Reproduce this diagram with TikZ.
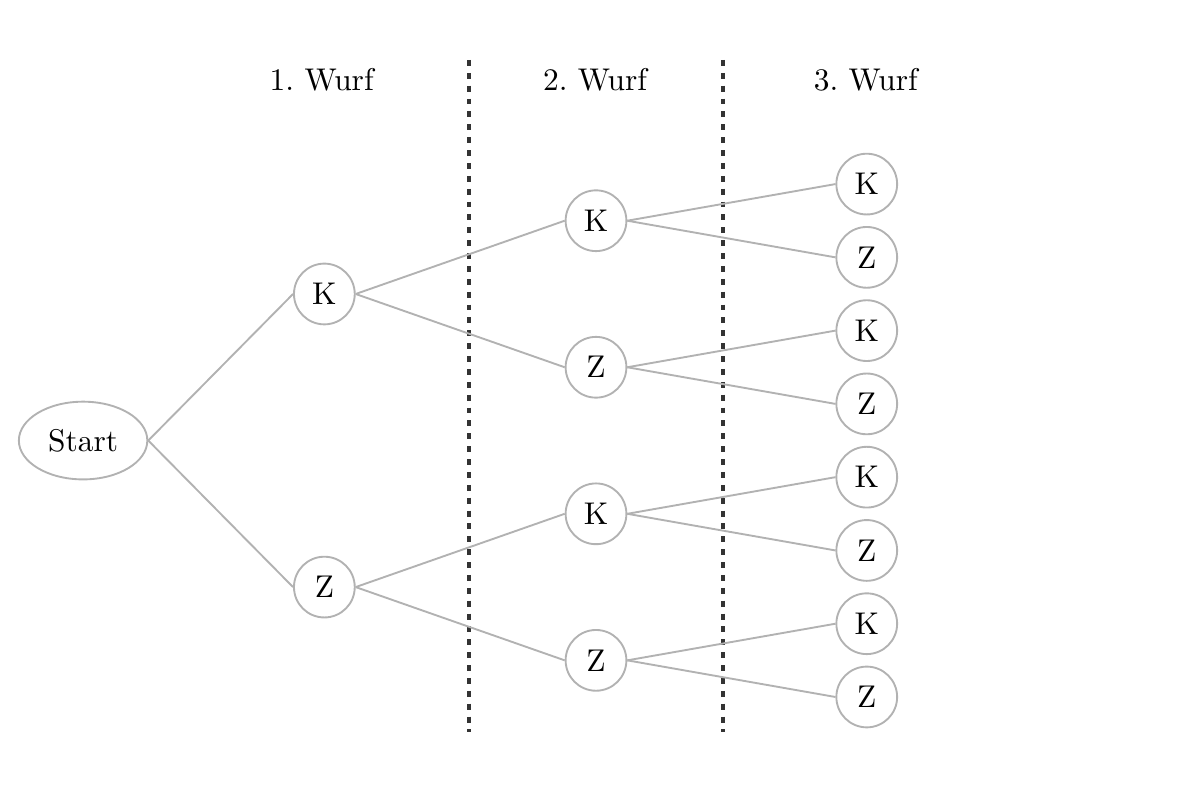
\documentclass[tikz,border=0pt]{standalone}
\usepackage{tikz}
\usetikzlibrary{shapes.geometric,positioning}

\begin{document}
\begin{tikzpicture}[
    knoten/.style={circle, draw=gray!60, semithick, minimum size=0.68cm, inner sep=0pt},
    startknoten/.style={ellipse, draw=gray!60, semithick, minimum width=1.43cm, minimum height=0.87cm},
    ast/.style={gray!60, semithick},
    trenner/.style={black!80, line width=1.1pt, dash pattern=on 1.9pt off 2.2pt}
]
    \useasboundingbox (-0.93,-3.95) rectangle (12.41,4.93);

    % Headers
    \node (w1) at (2.67,4.04) {1.\ Wurf};
    \node (w2) at (5.73,4.04) {2.\ Wurf};
    \node (w3) at (8.76,4.04) {3.\ Wurf};

    % Separators
    \coordinate (t1o) at (4.32,4.26);
    \coordinate (t1u) at (4.32,-3.26);
    \coordinate (t2o) at (7.16,4.26);
    \coordinate (t2u) at (7.16,-3.26);
    \draw[trenner] (t1o) -- (t1u);
    \draw[trenner] (t2o) -- (t2u);

    % Root
    \node[startknoten] (s) at (0,0) {Start};

    % 1. Wurf
    \node[knoten] (k) at (2.70,1.64) {K};
    \node[knoten] (z) at (2.70,-1.64) {Z};

    % 2. Wurf
    \node[knoten] (kk) at (5.74,2.46) {K};
    \node[knoten] (kz) at (5.74,0.82) {Z};
    \node[knoten] (zk) at (5.74,-0.82) {K};
    \node[knoten] (zz) at (5.74,-2.46) {Z};

    % 3. Wurf
    \node[knoten] (kkk) at (8.77,2.87) {K};
    \node[knoten] (kkz) at (8.77,2.05) {Z};
    \node[knoten] (kzk) at (8.77,1.23) {K};
    \node[knoten] (kzz) at (8.77,0.41) {Z};
    \node[knoten] (zkk) at (8.77,-0.41) {K};
    \node[knoten] (zkz) at (8.77,-1.23) {Z};
    \node[knoten] (zzk) at (8.77,-2.05) {K};
    \node[knoten] (zzz) at (8.77,-2.87) {Z};

    % Branches
    \draw[ast] (s.east) -- (k.west);
    \draw[ast] (s.east) -- (z.west);
    \foreach \p in {k,z}{
        \draw[ast] (\p.east) -- (\p k.west);
        \draw[ast] (\p.east) -- (\p z.west);
    }
    \foreach \p in {kk,kz,zk,zz}{
        \draw[ast] (\p.east) -- (\p k.west);
        \draw[ast] (\p.east) -- (\p z.west);
    }
\end{tikzpicture}
\end{document}
